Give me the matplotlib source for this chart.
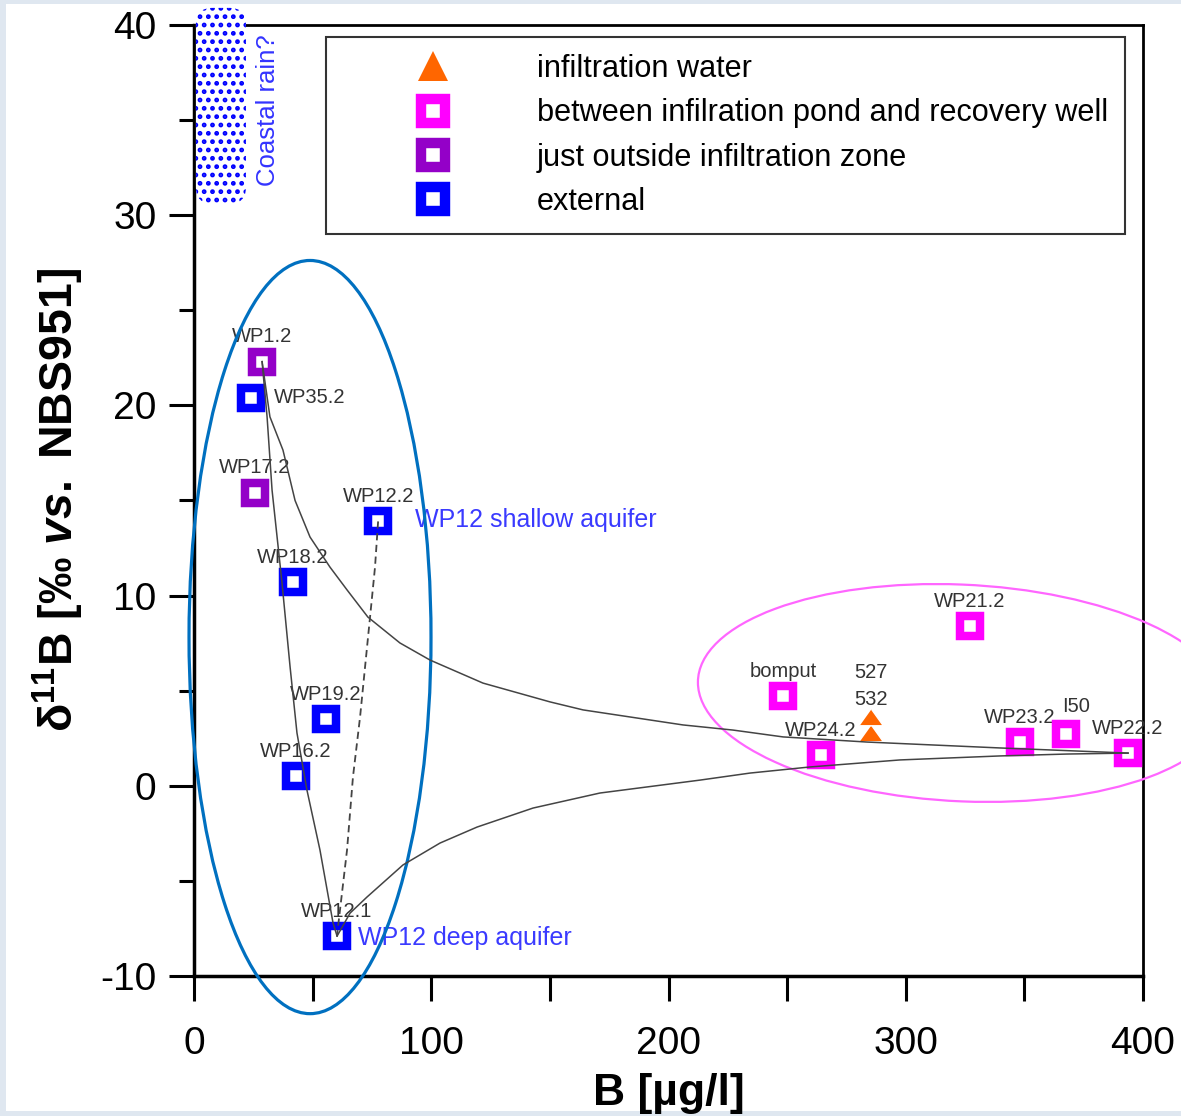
import matplotlib.pyplot as plt
from matplotlib.patches import Ellipse, FancyBboxPatch, Rectangle
from matplotlib.lines import Line2D

plt.rcParams['font.family'] = ['Liberation Sans', 'DejaVu Sans']
plt.rcParams['mathtext.fontset'] = 'custom'
plt.rcParams['mathtext.rm'] = 'Liberation Sans:bold'
plt.rcParams['mathtext.it'] = 'Liberation Sans:italic:bold'
plt.rcParams['mathtext.bf'] = 'Liberation Sans:bold'
plt.rcParams['hatch.linewidth'] = 2.2
plt.rcParams['axes.unicode_minus'] = False

# samples: B [ug/l] and d11B [permil]
ext_names = ['WP35.2', 'WP12.2', 'WP18.2', 'WP19.2', 'WP16.2', 'WP12.1']
ext_b = [24.0, 77.6, 41.7, 55.6, 43.0, 60.3]
ext_d = [20.4, 13.9, 10.7, 3.5, 0.5, -7.9]

out_names = ['WP1.2', 'WP17.2']
out_b = [28.7, 25.7]
out_d = [22.3, 15.4]

zone_names = ['bomput', 'WP24.2', 'WP21.2', 'WP23.2', 'I50', 'WP22.2']
zone_b = [248.3, 264.3, 327.1, 348.2, 367.5, 393.7]
zone_d = [4.7, 1.6, 8.4, 2.3, 2.7, 1.7]

infil_names = ['527', '532']
infil_b = [285.4, 285.4]
infil_d = [3.6, 2.8]

# mixing lines
mix_top_b = [28.7, 32.0, 37.5, 42.6, 48.9, 57.3, 64.5, 73.3, 86.8, 99.5, 121.8,
             150.1, 164.0, 206.1, 227.2, 248.3, 283.7, 339.7, 381.9, 393.7]
mix_top_d = [22.3, 19.4, 17.65, 15.0, 13.08, 11.5, 10.3, 8.87, 7.51, 6.61, 5.40,
             4.41, 3.99, 3.20, 2.93, 2.57, 2.30, 1.99, 1.78, 1.72]
mix_low_b = [60.3, 65.8, 72.9, 88.1, 103.7, 119.3, 142.9, 171.1, 213.3, 234.4,
             259.6, 297.6, 339.7, 368.0, 393.7]
mix_low_d = [-7.9, -6.69, -5.85, -4.16, -3.01, -2.17, -1.17, -0.38, 0.30, 0.67,
             0.99, 1.36, 1.57, 1.67, 1.72]
mix_left_b = [28.7, 30.8, 32.9, 37.1, 40.5, 43.4, 47.6, 53.1, 58.6, 60.3]
mix_left_d = [22.3, 19.4, 15.55, 10.66, 6.25, 2.78, -0.22, -3.38, -7.21, -7.9]
mix_wp12_b = [77.6, 76.3, 74.2, 72.1, 70.0, 67.0, 64.5, 60.7, 60.3]
mix_wp12_d = [13.9, 11.5, 8.87, 6.25, 3.62, 0.46, -3.38, -7.42, -7.9]

legend_labels = ['infiltration water',
                 'between infilration pond and recovery well',
                 'just outside infiltration zone',
                 'external']

c_orange = '#ff6600'
c_magenta = '#ff00ff'
c_purple = '#9400c8'
c_blue = '#0000ff'

fig = plt.figure(figsize=(11.81, 11.16), dpi=100, facecolor='#dfe7f0')
fig.add_artist(Rectangle((6 / 1181, 5 / 1116), 1, 1 - 9 / 1116,
                         transform=fig.transFigure, fc='white', ec='none', zorder=-10))
ax = fig.add_axes([194 / 1181, 1 - 976 / 1116, (1143 - 194) / 1181, (976 - 25) / 1116])

# mixing curves
ax.plot(mix_top_b, mix_top_d, color='#444444', lw=1.1, zorder=5)
ax.plot(mix_low_b, mix_low_d, color='#444444', lw=1.1, zorder=5)
ax.plot(mix_left_b, mix_left_d, color='#444444', lw=1.1, zorder=5)
ax.plot(mix_wp12_b, mix_wp12_d, color='#444444', lw=1.3, ls=(0, (4, 2.5)), zorder=5)

sq = dict(ls='none', marker='s', ms=14, mfc='white', mew=6.1, zorder=4)
ax.plot(ext_b, ext_d, mec=c_blue, **sq)
ax.plot(out_b, out_d, mec=c_purple, **sq)
ax.plot(zone_b, zone_d, mec=c_magenta, **sq)
tri = [(-1, -0.7), (1, -0.7), (0, 0.7)]
ax.plot(infil_b[::-1], infil_d[::-1], ls='none', marker=tri, ms=17, color=c_orange,
        mec='white', mew=1, zorder=4)

# sample labels
lab = dict(fontsize=14.5, color='#333333', ha='center', va='center',
           textcoords='offset points')
for names, xs, ys in [(ext_names, ext_b, ext_d), (out_names, out_b, out_d),
                      (zone_names, zone_b, zone_d)]:
    for n, x, y in zip(names, xs, ys):
        if n == 'WP35.2':
            ax.annotate(n, (x, y), xytext=(16.5, 0.5), **{**lab, 'ha': 'left'})
        elif n == 'I50':
            ax.annotate(n, (x, y), xytext=(7, 20), **lab)
        else:
            ax.annotate(n, (x, y), xytext=(0, 18), **lab)
ax.annotate(infil_names[0], (infil_b[0], infil_d[0]), xytext=(0, 32), **lab)
ax.annotate(infil_names[1], (infil_b[1], infil_d[1]), xytext=(0, 24), **lab)

ax.annotate('WP12 shallow aquifer', (ext_b[1], ext_d[1]), xytext=(26.5, 1),
            textcoords='offset points', fontsize=18, color='#3a3aff', ha='left', va='center')
ax.annotate('WP12 deep aquifer', (ext_b[5], ext_d[5]), xytext=(15, -1.5),
            textcoords='offset points', fontsize=18, color='#3a3aff', ha='left', va='center')

# groups
ax.add_patch(Ellipse((48.9, 7.82), 102, 39.6, fill=False, ec='#0070c0', lw=2.3,
                     clip_on=False, zorder=3))
ax.add_patch(Ellipse((323.7, 4.88), 222.6, 11.4, angle=-0.29, fill=False, ec='#ff66ff',
                     lw=1.6, clip_on=False, zorder=3))

# coastal rain box
ax.add_patch(FancyBboxPatch((0.8, 30.6), 21.1, 10.3, boxstyle='round,pad=0,rounding_size=7',
                            mutation_aspect=0.1247, fc='white', ec=c_blue, lw=0,
                            hatch='..', clip_on=False, zorder=3))
ax.text(31.4, 35.5, 'Coastal rain?', rotation=90, color='#3333ff', fontsize=18.5,
        ha='center', va='center')

ax.set_xlim(0, 400)
ax.set_ylim(-10, 40)
ax.set_xticks([0, 100, 200, 300, 400])
ax.set_xticks([50, 150, 250, 350], minor=True)
ax.set_yticks([-10, 0, 10, 20, 30, 40])
ax.set_yticks([-5, 5, 15, 25, 35], minor=True)
ax.tick_params(axis='both', which='major', direction='out', length=18, width=2.2,
               labelsize=28, top=False, right=False)
ax.tick_params(axis='x', which='major', pad=18)
ax.tick_params(axis='y', which='major', pad=9)
ax.tick_params(axis='x', which='minor', direction='out', length=18, width=2.2, top=False)
ax.tick_params(axis='y', which='minor', direction='out', length=11, width=2.2, right=False)
for s in ['left', 'bottom']:
    ax.spines[s].set_linewidth(2.5)
for s in ['top', 'right']:
    ax.spines[s].set_linewidth(2.0)

ax.set_xlabel('B [µg/l]', fontsize=32, fontweight='bold', labelpad=8)
ax.set_ylabel(r'δ$^{11}$B [‰ $\mathit{vs.}$ NBS951]', fontsize=33.5, fontweight='bold',
              labelpad=10)

handles = [
    Line2D([], [], ls='none', marker='^', ms=22, color=c_orange, mew=0),
    Line2D([], [], ls='none', marker='s', ms=17, mfc='white', mec=c_magenta, mew=7.5),
    Line2D([], [], ls='none', marker='s', ms=17, mfc='white', mec=c_purple, mew=7.5),
    Line2D([], [], ls='none', marker='s', ms=17, mfc='white', mec=c_blue, mew=7.5),
]
leg = ax.legend(handles, legend_labels, loc='upper left',
                bbox_to_anchor=(326 / 1181, 1 - 37 / 1116), bbox_transform=fig.transFigure,
                borderaxespad=0, fontsize=22.1, fancybox=False, framealpha=1,
                edgecolor='#333333', handlelength=5.87, handletextpad=0.45,
                borderpad=0.55, labelspacing=0.47)
leg.get_frame().set_linewidth(1.5)

fig.savefig('out.png', dpi=100, facecolor=fig.get_facecolor())
